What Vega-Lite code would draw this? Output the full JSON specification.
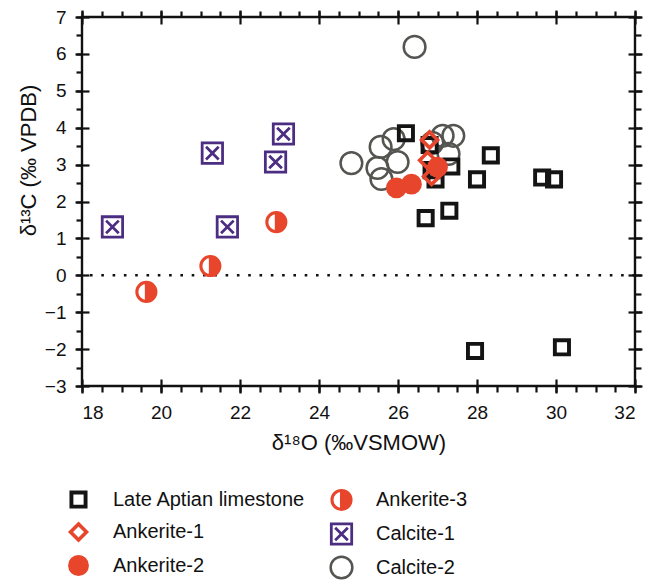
{
  "$schema": "https://vega.github.io/schema/vega-lite/v6.json",
  "width": 553,
  "height": 369,
  "autosize": "none",
  "padding": {"left": 82, "top": 17, "right": 26, "bottom": 198},
  "background": "white",
  "config": {
    "view": {"stroke": "#111111", "strokeWidth": 2.4},
    "axis": {
      "labelFont": "Liberation Sans",
      "labelFontSize": 19,
      "labelColor": "#111111",
      "titleFont": "Liberation Sans",
      "titleFontSize": 22,
      "titleFontWeight": "normal",
      "titleColor": "#111111",
      "tickColor": "#111111",
      "tickWidth": 2.2,
      "domain": false,
      "grid": false
    },
    "legend": {
      "orient": "none",
      "legendX": -16,
      "legendY": 471,
      "columns": 2,
      "labelFont": "Liberation Sans",
      "labelFontSize": 20,
      "labelLimit": 400,
      "labelColor": "#111111",
      "labelOffset": 22,
      "rowPadding": 0,
      "columnPadding": 19,
      "symbolType": "square"
    }
  },
  "data": {
    "values": [
      {"type": "Calcite-2", "d18O": 26.42, "d13C": 6.19},
      {"type": "Calcite-2", "d18O": 24.82, "d13C": 3.04},
      {"type": "Calcite-2", "d18O": 25.56, "d13C": 3.48},
      {"type": "Calcite-2", "d18O": 25.89, "d13C": 3.69},
      {"type": "Calcite-2", "d18O": 25.99, "d13C": 3.07},
      {"type": "Calcite-2", "d18O": 25.48, "d13C": 2.91},
      {"type": "Calcite-2", "d18O": 25.58, "d13C": 2.61},
      {"type": "Calcite-2", "d18O": 26.87, "d13C": 3.59},
      {"type": "Calcite-2", "d18O": 27.13, "d13C": 3.78},
      {"type": "Calcite-2", "d18O": 27.4, "d13C": 3.78},
      {"type": "Calcite-2", "d18O": 27.28, "d13C": 3.29},
      {"type": "Late Aptian limestone", "d18O": 26.2, "d13C": 3.85},
      {"type": "Late Aptian limestone", "d18O": 27.95, "d13C": -2.05},
      {"type": "Late Aptian limestone", "d18O": 30.15, "d13C": -1.95},
      {"type": "Late Aptian limestone", "d18O": 29.65, "d13C": 2.65},
      {"type": "Late Aptian limestone", "d18O": 29.95, "d13C": 2.6},
      {"type": "Late Aptian limestone", "d18O": 28.35, "d13C": 3.25},
      {"type": "Late Aptian limestone", "d18O": 28.0, "d13C": 2.6},
      {"type": "Late Aptian limestone", "d18O": 27.3, "d13C": 1.75},
      {"type": "Late Aptian limestone", "d18O": 26.7, "d13C": 1.55},
      {"type": "Late Aptian limestone", "d18O": 26.8, "d13C": 3.53},
      {"type": "Late Aptian limestone", "d18O": 26.85, "d13C": 2.85},
      {"type": "Late Aptian limestone", "d18O": 26.95, "d13C": 2.6},
      {"type": "Late Aptian limestone", "d18O": 27.35, "d13C": 2.95},
      {"type": "Ankerite-1", "d18O": 26.8, "d13C": 3.67},
      {"type": "Ankerite-1", "d18O": 26.75, "d13C": 3.12},
      {"type": "Ankerite-1", "d18O": 26.85, "d13C": 2.68},
      {"type": "Ankerite-2", "d18O": 25.96, "d13C": 2.37},
      {"type": "Ankerite-2", "d18O": 26.34, "d13C": 2.47},
      {"type": "Ankerite-2", "d18O": 27.0, "d13C": 2.93},
      {"type": "Ankerite-3", "d18O": 19.63, "d13C": -0.45},
      {"type": "Ankerite-3", "d18O": 21.25, "d13C": 0.25},
      {"type": "Ankerite-3", "d18O": 22.92, "d13C": 1.44},
      {"type": "Calcite-1", "d18O": 18.77, "d13C": 1.31},
      {"type": "Calcite-1", "d18O": 21.3, "d13C": 3.31},
      {"type": "Calcite-1", "d18O": 21.68, "d13C": 1.31},
      {"type": "Calcite-1", "d18O": 22.9, "d13C": 3.07},
      {"type": "Calcite-1", "d18O": 23.1, "d13C": 3.83}
    ]
  },
  "resolve": {"axis": {"x": "independent", "y": "independent"}},
  "layer": [
    {
      "data": {"values": [{"ref": 0}]},
      "mark": {"type": "rule", "color": "#111111", "strokeWidth": 2.6, "strokeDash": [2.6, 8.7]},
      "encoding": {
        "y": {"field": "ref", "type": "quantitative", "scale": {"domain": [-3, 7], "nice": false, "zero": false}, "axis": null}
      }
    },
    {
      "mark": {"type": "point", "opacity": 0},
      "encoding": {
        "x": {"field": "d18O", "type": "quantitative", "scale": {"domain": [18, 32], "nice": false, "zero": false},
          "axis": {"orient": "bottom", "values": [18,18.5,19,19.5,20,20.5,21,21.5,22,22.5,23,23.5,24,24.5,25,25.5,26,26.5,27,27.5,28,28.5,29,29.5,30,30.5,31,31.5,32], "tickSize": 6, "labels": false, "title": null}},
        "y": {"field": "d13C", "type": "quantitative", "scale": {"domain": [-3, 7], "nice": false, "zero": false},
          "axis": {"orient": "left", "values": [-3,-2.5,-2,-1.5,-1,-0.5,0,0.5,1,1.5,2,2.5,3,3.5,4,4.5,5,5.5,6,6.5,7], "tickSize": 6, "labels": false, "title": null}}
      }
    },
    {
      "mark": {"type": "point", "opacity": 0},
      "encoding": {
        "x": {"field": "d18O", "type": "quantitative",
          "axis": {"orient": "bottom", "values": [18,20,22,24,26,28,30,32], "tickSize": -7, "labels": false, "title": null}},
        "y": {"field": "d13C", "type": "quantitative",
          "axis": {"orient": "left", "values": [-3,-2,-1,0,1,2,3,4,5,6,7], "tickSize": -7, "labels": false, "title": null}}
      }
    },
    {
      "mark": {"type": "point", "opacity": 0},
      "encoding": {
        "x": {"field": "d18O", "type": "quantitative",
          "axis": {"orient": "top", "values": [18,18.5,19,19.5,20,20.5,21,21.5,22,22.5,23,23.5,24,24.5,25,25.5,26,26.5,27,27.5,28,28.5,29,29.5,30,30.5,31,31.5,32], "tickSize": 6, "labels": false, "title": null}},
        "y": {"field": "d13C", "type": "quantitative",
          "axis": {"orient": "right", "values": [-3,-2.5,-2,-1.5,-1,-0.5,0,0.5,1,1.5,2,2.5,3,3.5,4,4.5,5,5.5,6,6.5,7], "tickSize": 6, "labels": false, "title": null}}
      }
    },
    {
      "mark": {"type": "point", "opacity": 0},
      "encoding": {
        "x": {"field": "d18O", "type": "quantitative",
          "axis": {"orient": "top", "values": [18,20,22,24,26,28,30,32], "tickSize": 7, "labels": false, "title": null}},
        "y": {"field": "d13C", "type": "quantitative",
          "axis": {"orient": "right", "values": [-3,-2,-1,0,1,2,3,4,5,6,7], "tickSize": 7, "labels": false, "title": null}}
      }
    },
    {
      "mark": {"type": "point", "opacity": 0},
      "encoding": {
        "x": {"field": "d18O", "type": "quantitative",
          "axis": {"orient": "top", "values": [18,20,22,24,26,28,30,32], "tickSize": -7, "labels": false, "title": null}},
        "y": {"field": "d13C", "type": "quantitative",
          "axis": {"orient": "right", "values": [-3,-2,-1,0,1,2,3,4,5,6,7], "tickSize": -7, "labels": false, "title": null}}
      }
    },
    {
      "mark": {"type": "point", "opacity": 1},
      "encoding": {
        "x": {"field": "d18O", "type": "quantitative",
          "axis": {"orient": "bottom", "values": [18,20,22,24,26,28,30,32], "tickSize": 7, "labelPadding": 10, "title": "δ¹⁸O (‰VSMOW)", "titlePadding": 10}},
        "y": {"field": "d13C", "type": "quantitative",
          "axis": {"orient": "left", "values": [-3,-2,-1,0,1,2,3,4,5,6,7], "tickSize": 7, "labelPadding": 9, "title": "δ¹³C (‰ VPDB)", "titleX": -54, "titleY": 143, "titleAngle": 270, "titleAlign": "center", "titleBaseline": "middle"}},
        "shape": {"field": "type", "type": "nominal", "title": null,
          "scale": {"domain": ["Late Aptian limestone", "Ankerite-1", "Ankerite-2", "Ankerite-3", "Calcite-1", "Calcite-2"],
            "range": ["square", "diamond", "circle", "M0,-1A1,1 0 0,1 0,1Z M0,-1A1,1 0 0,0 0,1A1,1 0 0,1 0,-1Z", "M-1,-1H1V1H-1Z M-0.62,-0.62L0.62,0.62 M0.62,-0.62L-0.62,0.62", "circle"]}},
        "stroke": {"field": "type", "type": "nominal", "title": null,
          "scale": {"domain": ["Late Aptian limestone", "Ankerite-1", "Ankerite-2", "Ankerite-3", "Calcite-1", "Calcite-2"],
            "range": ["#141414", "#e8462c", "#e8462c", "#e8462c", "#4b2d82", "#545450"]}},
        "fill": {"field": "type", "type": "nominal", "title": null,
          "scale": {"domain": ["Late Aptian limestone", "Ankerite-1", "Ankerite-2", "Ankerite-3", "Calcite-1", "Calcite-2"],
            "range": ["transparent", "transparent", "#e8462c", "#e8462c", "transparent", "transparent"]}},
        "size": {"field": "type", "type": "nominal", "title": null,
          "scale": {"domain": ["Late Aptian limestone", "Ankerite-1", "Ankerite-2", "Ankerite-3", "Calcite-1", "Calcite-2"],
            "range": [200, 470, 380, 300, 210, 300]}},
        "strokeWidth": {"field": "type", "type": "nominal", "title": null,
          "scale": {"domain": ["Late Aptian limestone", "Ankerite-1", "Ankerite-2", "Ankerite-3", "Calcite-1", "Calcite-2"],
            "range": [3.9, 2.5, 1, 2.2, 3, 3]}}
      }
    }
  ]
}
